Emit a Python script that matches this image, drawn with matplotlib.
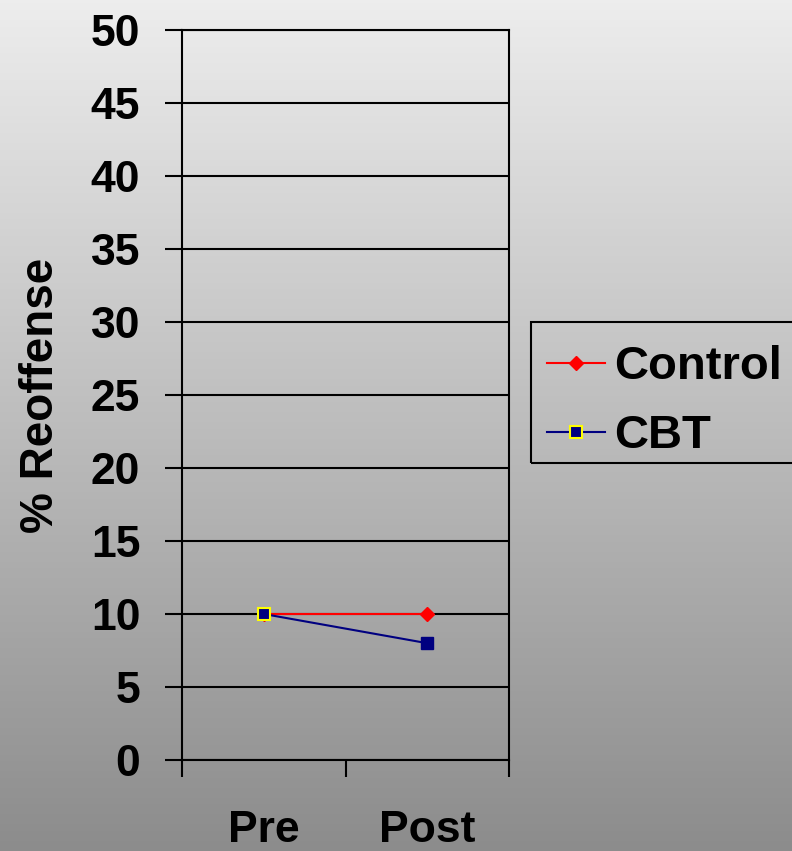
import numpy as np
import matplotlib
matplotlib.use("Agg")
import matplotlib.pyplot as plt
from matplotlib.patches import Rectangle

plt.rcParams["font.family"] = ["Liberation Sans", "DejaVu Sans"]
plt.rcParams["font.weight"] = "bold"

# reoffense rates (%)
phases = ["Pre", "Post"]
control = [10, 10]
cbt = [10, 8]
y_ticks = list(range(0, 51, 5))

fig = plt.figure(figsize=(7.92, 8.51), dpi=100)

# grey vertical gradient behind everything
bg = fig.add_axes([0, 0, 1, 1], zorder=-10)
grad = np.linspace(237, 140, 256).reshape(-1, 1) / 255.0
bg.imshow(np.dstack([grad, grad, grad]), aspect="auto", extent=[0, 1, 0, 1])
bg.set_axis_off()

ax = fig.add_axes([182 / 792, 1 - 760 / 851, 327 / 792, 730 / 851])
ax.set_facecolor("none")

xpos = np.arange(len(phases)) + 0.5

ax.plot(xpos, control, color="red", lw=1.5, marker="D", ms=7,
        mfc="red", mec="red", label="Control", zorder=3)
ax.plot(xpos, cbt, color="navy", lw=1.5, marker="s", ms=8,
        mfc="navy", mec="yellow", mew=1.5, markevery=[0], label="CBT", zorder=4)
ax.plot(xpos[1:], cbt[1:], ls="none", marker="s", ms=8,
        mfc="navy", mec="navy", zorder=4)

ax.set_xlim(0, len(phases))
ax.set_ylim(0, 50)
ax.set_yticks(y_ticks)
ax.yaxis.grid(True, color="black", lw=1.5)
ax.set_axisbelow(True)

ax.set_xticks(np.arange(len(phases) + 1))
ax.set_xticklabels([])
ax.set_xticks(xpos, minor=True)
ax.set_xticklabels(phases, minor=True)
ax.tick_params(axis="x", which="major", length=12, width=1.5, direction="out")
ax.tick_params(axis="x", which="minor", length=0, pad=36, labelsize=32)
ax.tick_params(axis="y", length=12, width=1.5, pad=18, labelsize=32)

for sp in ax.spines.values():
    sp.set_linewidth(1.5)
    sp.set_color("black")

ax.set_ylabel("% Reoffense", fontsize=33, fontweight="bold", labelpad=20)

# legend entries, with a plain box drawn around them
leg = fig.legend(loc="upper left", bbox_to_anchor=(531 / 792, 1 - 329 / 851),
                 borderaxespad=0, fontsize=34, frameon=False,
                 handlelength=1.22, handletextpad=0.2, borderpad=0.34,
                 labelspacing=0.53)
fig.patches.append(Rectangle((531 / 792, 1 - 463 / 851), 300 / 792, 141 / 851,
                             transform=fig.transFigure, fill=False,
                             edgecolor="black", lw=1.5))

fig.savefig("out.png", dpi=100)
